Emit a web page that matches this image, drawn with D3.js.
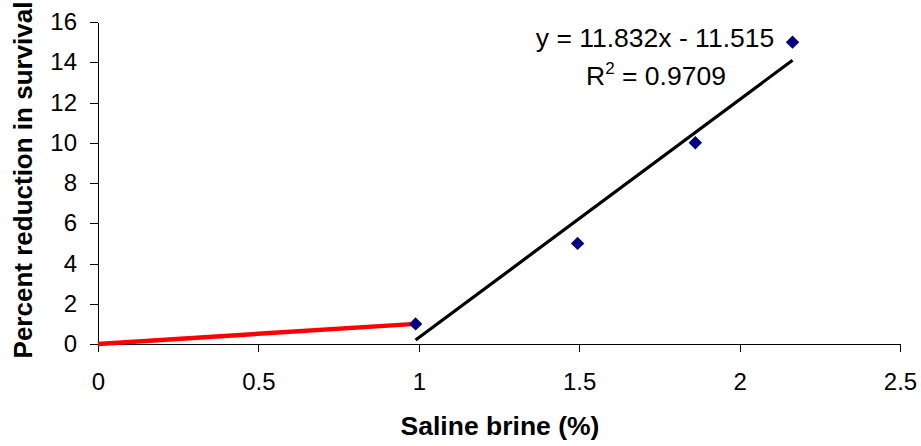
<!DOCTYPE html>
<html>
<head>
<meta charset="utf-8">
<script src="https://cdn.jsdelivr.net/npm/d3@7"></script>
<style>
  html, body { margin: 0; padding: 0; background: #fff; }
  svg { display: block; font-family: "Liberation Sans", Arial, sans-serif; }
</style>
</head>
<body>
<svg id="chart" width="921" height="446"></svg>
<script>
// Measured survival reduction at each brine concentration
const brine = [0.99, 1.495, 1.862, 2.165];
const reduction = [1, 5, 10, 15];

// Low-concentration segment from the origin to the first measurement
const lowBrine = [0, 0.99];
const lowReduction = [0, 1];

// Linear fit reported for the measured points
const slope = 11.832;
const intercept = -11.515;
const rSquared = "0.9709";

const xTicks = [0, 0.5, 1, 1.5, 2, 2.5];
const yTicks = [0, 2, 4, 6, 8, 10, 12, 14, 16];

const svg = d3.select("#chart");

const x = d3.scaleLinear().domain([0, 2.5]).range([98, 900]);
const y = d3.scaleLinear().domain([0, 16]).range([344, 22]);

// Axes
const xAxis = svg.append("g")
  .attr("transform", `translate(0,${y(0)})`)
  .call(d3.axisBottom(x).tickValues(xTicks).tickFormat(d3.format("")).tickSize(8).tickSizeOuter(0).tickPadding(21));

const yAxis = svg.append("g")
  .attr("transform", `translate(${x(0)},0)`)
  .call(d3.axisLeft(y).tickValues(yTicks).tickSize(8).tickSizeOuter(0).tickPadding(13));

[xAxis, yAxis].forEach(g => {
  g.selectAll("path, line").attr("stroke", "#000").attr("shape-rendering", "crispEdges");
  g.selectAll("text").attr("fill", "#000").style("font-size", "24px")
    .style("font-family", '"Liberation Sans", Arial, sans-serif');
});

// Axis titles
svg.append("text")
  .attr("x", 500).attr("y", 435)
  .attr("text-anchor", "middle")
  .style("font-size", "26.5px").style("font-weight", "bold")
  .text("Saline brine (%)");

svg.append("text")
  .attr("transform", "translate(32,180) rotate(-90)")
  .attr("text-anchor", "middle")
  .style("font-size", "26px").style("font-weight", "bold")
  .text("Percent reduction in survival");

// Red segment
const line = d3.line().x(d => x(d[0])).y(d => y(d[1]));
svg.append("path")
  .datum(lowBrine.map((b, i) => [b, lowReduction[i]]))
  .attr("d", line)
  .attr("fill", "none")
  .attr("stroke", "#ff0000")
  .attr("stroke-width", 4.5);

// Fitted trendline across the measured range
const xMin = d3.min(brine), xMax = d3.max(brine);
svg.append("path")
  .datum([[xMin, slope * xMin + intercept], [xMax, slope * xMax + intercept]])
  .attr("d", line)
  .attr("fill", "none")
  .attr("stroke", "#000")
  .attr("stroke-width", 3.2);

// Diamond markers
svg.append("g")
  .selectAll("path")
  .data(brine.map((b, i) => [b, reduction[i]]))
  .join("path")
  .attr("d", d3.symbol(d3.symbolSquare, 90))
  .attr("transform", d => `translate(${x(d[0])},${y(d[1])}) rotate(45)`)
  .attr("fill", "#000080");

// Fit equation and R²
svg.append("text")
  .attr("x", 655).attr("y", 47)
  .attr("text-anchor", "middle")
  .style("font-size", "26.5px")
  .text(`y = ${slope}x - ${Math.abs(intercept)}`);

const r2 = svg.append("text")
  .attr("x", 656).attr("y", 85)
  .attr("text-anchor", "middle")
  .style("font-size", "26.5px");
r2.append("tspan").text("R");
r2.append("tspan").attr("dy", -11).style("font-size", "17px").text("2");
r2.append("tspan").attr("dy", 11).text(` = ${rSquared}`);
</script>
</body>
</html>
